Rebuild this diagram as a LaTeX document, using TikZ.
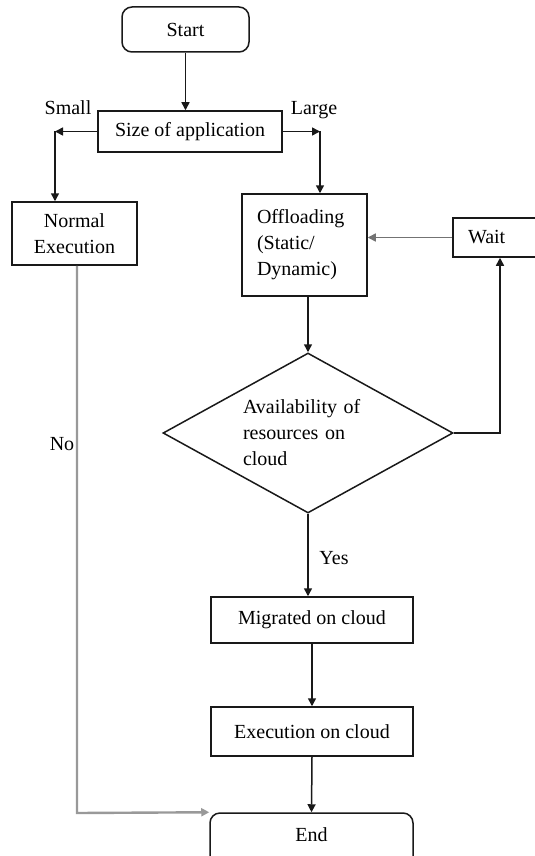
\documentclass[tikz,border=0pt]{standalone}
\usepackage{fontspec}
\setmainfont{Liberation Serif}
\usetikzlibrary{arrows.meta,shapes.geometric}
\definecolor{flowline}{gray}{0.1}
\definecolor{noline}{gray}{0.6}
\definecolor{waitline}{gray}{0.45}
\tikzset{
  txt/.style={font=\fontsize{10}{13}\selectfont},
  box/.style={draw=flowline,line width=0.75pt,rectangle,txt,align=center,inner sep=0pt},
  term/.style={box,rounded corners=5pt},
  lbox/.style={box,align=left},
  dec/.style={draw=flowline,line width=0.75pt,diamond,txt,align=left,inner sep=0pt,aspect=1.81},
  arr/.style={draw=flowline,line width=0.75pt,-{Triangle[length=4pt,width=4pt]}},
}

\begin{document}
\begin{tikzpicture}[x=0.5pt,y=-0.5pt]
  \useasboundingbox (0,0) rectangle (535,856);
  \node[term,minimum width=63.5pt,minimum height=22.5pt] (start) at (185.5,29.5) {Start};
  \node[box,minimum width=92pt,minimum height=20.5pt] (size) at (190,131.5) {Size of application};
  \node[box,minimum width=62.5pt,minimum height=31.5pt] (normal) at (74.5,233.5) {Normal\\Execution};
  \node[lbox,text width=47.5pt,minimum width=62.5pt,minimum height=51pt] (offload) at (304.5,245) {Offloading\\(Static/\\Dynamic)};
  \node[lbox,text width=41pt,minimum width=56pt,minimum height=19.5pt] (wait) at (509,237.5) {Wait};
  \node[dec,text width=65pt,minimum width=145pt,minimum height=80pt] (avail) at (308,433) {Availability of\\resources on\\cloud};
  \node[box,minimum width=101pt,minimum height=23pt] (migrated) at (312,620) {Migrated on cloud};
  \node[box,minimum width=101pt,minimum height=24.5pt] (exec) at (312,731.5) {Execution on cloud};
  \node[term,minimum width=101.5pt,minimum height=28pt,text depth=6pt] (end) at (311.5,841) {End};
  \node[txt,anchor=base] (small) at (68,115) {Small};
  \node[txt,anchor=base] (large) at (314,115) {Large};
  \node[txt,anchor=base] (no) at (62,450) {No};
  \node[txt,anchor=base] (yes) at (334,564) {Yes};
  \coordinate (smallturn) at (55,131.5);
  \coordinate (largeturn) at (320,131.5);
  \coordinate (waitturn) at (500,433);
  \coordinate (noturn) at (77,813);
  \draw[arr] (start) -- (start |- size.north);
  \draw[arr] (size.west) -- (smallturn);
  \draw[arr] (smallturn) -- (smallturn |- normal.north);
  \draw[arr] (size.east) -- (largeturn);
  \draw[arr] (largeturn) -- (largeturn |- offload.north);
  \draw[arr,draw=waitline] (wait.west) -- (wait.west -| offload.east);
  \draw[arr] (avail.north |- offload.south) -- (avail.north);
  \draw[arr] (avail.east) -- (waitturn) -- (waitturn |- wait.south);
  \draw[arr] (avail.south) -- (avail.south |- migrated.north);
  \draw[arr] (migrated.south) -- (exec.north);
  \draw[arr] (exec.south) -- (end.north);
  \draw[arr,draw=noline,line width=1.2pt] (normal.south -| noturn) -- (noturn) -- (end.north west);
\end{tikzpicture}
\end{document}
